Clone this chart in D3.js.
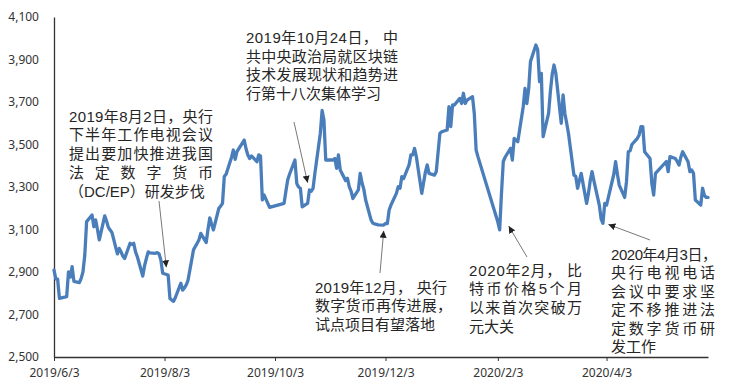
<!DOCTYPE html>
<html>
<head>
<meta charset="utf-8">
<script src="https://cdn.jsdelivr.net/npm/d3@7"></script>
<style>
  body { margin: 0; background: #fff; }
  svg { display: block; }
  text { font-family: "Noto Sans", "Noto Sans CJK SC", sans-serif; }
</style>
</head>
<body>
<div id="chart"></div>
<script>
// trading days shown in the chart
const dates = [
  "2019-06-03", "2019-06-04", "2019-06-05", "2019-06-06", "2019-06-10", "2019-06-11", "2019-06-12", "2019-06-13", "2019-06-14",
  "2019-06-17", "2019-06-18", "2019-06-19", "2019-06-20", "2019-06-21", "2019-06-24", "2019-06-25", "2019-06-26", "2019-06-27", "2019-06-28",
  "2019-07-01", "2019-07-02", "2019-07-03", "2019-07-04", "2019-07-05", "2019-07-08", "2019-07-09", "2019-07-10", "2019-07-11", "2019-07-12",
  "2019-07-15", "2019-07-16", "2019-07-17", "2019-07-18", "2019-07-19", "2019-07-22", "2019-07-23", "2019-07-24", "2019-07-25", "2019-07-26",
  "2019-07-29", "2019-07-30", "2019-07-31", "2019-08-01", "2019-08-02", "2019-08-05", "2019-08-06", "2019-08-07", "2019-08-08", "2019-08-09",
  "2019-08-12", "2019-08-13", "2019-08-14", "2019-08-15", "2019-08-16", "2019-08-19", "2019-08-20", "2019-08-21", "2019-08-22", "2019-08-23",
  "2019-08-26", "2019-08-27", "2019-08-28", "2019-08-29", "2019-08-30", "2019-09-02", "2019-09-03", "2019-09-04", "2019-09-05", "2019-09-06",
  "2019-09-09", "2019-09-10", "2019-09-11", "2019-09-12", "2019-09-16", "2019-09-17", "2019-09-18", "2019-09-19", "2019-09-20",
  "2019-09-23", "2019-09-24", "2019-09-25", "2019-09-26", "2019-09-27", "2019-09-30", "2019-10-08", "2019-10-09", "2019-10-10", "2019-10-11",
  "2019-10-14", "2019-10-15", "2019-10-16", "2019-10-17", "2019-10-18", "2019-10-21", "2019-10-22", "2019-10-23", "2019-10-24", "2019-10-25",
  "2019-10-28", "2019-10-29", "2019-10-30", "2019-10-31", "2019-11-01", "2019-11-04", "2019-11-05", "2019-11-06", "2019-11-07", "2019-11-08",
  "2019-11-11", "2019-11-12", "2019-11-13", "2019-11-14", "2019-11-15", "2019-11-18", "2019-11-19", "2019-11-20", "2019-11-21", "2019-11-22",
  "2019-11-25", "2019-11-26", "2019-11-27", "2019-11-28", "2019-11-29", "2019-12-02", "2019-12-03", "2019-12-04", "2019-12-05", "2019-12-06",
  "2019-12-09", "2019-12-10", "2019-12-11", "2019-12-12", "2019-12-13", "2019-12-16", "2019-12-17", "2019-12-18", "2019-12-19", "2019-12-20",
  "2019-12-23", "2019-12-24", "2019-12-25", "2019-12-26", "2019-12-27", "2019-12-30", "2019-12-31", "2020-01-02", "2020-01-03",
  "2020-01-06", "2020-01-07", "2020-01-08", "2020-01-09", "2020-01-10", "2020-01-13", "2020-01-14", "2020-01-15", "2020-01-16", "2020-01-17",
  "2020-01-20", "2020-01-21", "2020-01-22", "2020-01-23", "2020-02-03", "2020-02-04", "2020-02-05", "2020-02-06", "2020-02-07",
  "2020-02-10", "2020-02-11", "2020-02-12", "2020-02-13", "2020-02-14", "2020-02-17", "2020-02-18", "2020-02-19", "2020-02-20", "2020-02-21",
  "2020-02-24", "2020-02-25", "2020-02-26", "2020-02-27", "2020-02-28", "2020-03-02", "2020-03-03", "2020-03-04", "2020-03-05", "2020-03-06",
  "2020-03-09", "2020-03-10", "2020-03-11", "2020-03-12", "2020-03-13", "2020-03-16", "2020-03-17", "2020-03-18", "2020-03-19", "2020-03-20",
  "2020-03-23", "2020-03-24", "2020-03-25", "2020-03-26", "2020-03-27", "2020-03-30", "2020-03-31", "2020-04-01", "2020-04-02", "2020-04-03",
  "2020-04-07", "2020-04-08", "2020-04-09", "2020-04-10", "2020-04-13", "2020-04-14", "2020-04-15", "2020-04-16", "2020-04-17",
  "2020-04-20", "2020-04-21", "2020-04-22", "2020-04-23", "2020-04-24", "2020-04-27", "2020-04-28", "2020-04-29", "2020-04-30",
  "2020-05-06", "2020-05-07", "2020-05-08", "2020-05-11", "2020-05-12", "2020-05-13", "2020-05-14", "2020-05-15",
  "2020-05-18", "2020-05-19", "2020-05-20", "2020-05-21", "2020-05-22", "2020-05-25", "2020-05-26", "2020-05-27", "2020-05-28", "2020-05-29"
];

// index close for each day above
const values = [
  2909, 2868, 2866, 2776, 2784, 2901, 2876, 2925, 2856,
  2850, 2870, 2901, 2980, 3137, 3168, 3113, 3145, 3100, 3051,
  3164, 3140, 3110, 3098, 3085, 2985, 3011, 2995, 2975, 2964,
  3035, 3030, 3035, 2995, 2972, 2881, 2930, 2964, 2995, 2990,
  2988, 2991, 2985, 2956, 2894, 2886, 2775, 2768, 2762, 2780,
  2847, 2815, 2825, 2839, 2862, 3004, 3020, 3035, 3051, 3082,
  3039, 3100, 3155, 3125, 3098, 3200, 3210, 3223, 3349, 3360,
  3440, 3474, 3430, 3466, 3521, 3480, 3451, 3434, 3446,
  3419, 3451, 3445, 3239, 3262, 3204, 3223, 3280, 3333, 3360,
  3427, 3317, 3300, 3294, 3207, 3223, 3286, 3280, 3294, 3364,
  3552, 3660, 3615, 3427, 3427, 3427, 3434, 3388, 3451, 3380,
  3330, 3341, 3301, 3280, 3246, 3286, 3364, 3320, 3290, 3240,
  3145, 3130, 3126, 3124, 3122, 3121, 3129, 3128, 3192, 3215,
  3270, 3301, 3294, 3349, 3340, 3404, 3451, 3451, 3482, 3443,
  3270, 3320, 3370, 3404, 3364, 3356, 3372, 3552, 3560,
  3568, 3678, 3584, 3686, 3686, 3717, 3693, 3741, 3693, 3709,
  3725, 3646, 3474, 3443, 3135, 3098, 3270, 3420, 3440,
  3482, 3427, 3529, 3520, 3513, 3678, 3764, 3693, 3760, 3890,
  3968, 3945, 3796, 3835, 3537, 3646, 3750, 3830, 3874, 3835,
  3600, 3733, 3646, 3600, 3552, 3356, 3350, 3294, 3330, 3364,
  3223, 3270, 3330, 3372, 3330, 3215, 3150, 3129, 3223, 3215,
  3360, 3419, 3360, 3309, 3251, 3325, 3466, 3470, 3500,
  3529, 3545, 3584, 3584, 3466, 3434, 3317, 3262, 3364,
  3420, 3372, 3443, 3434, 3420, 3403, 3440, 3466,
  3419, 3372, 3380, 3364, 3239, 3215, 3294, 3260, 3251, 3251
];

// axis ticks
const x_ticks = ["2019-06-03", "2019-08-03", "2019-10-03", "2019-12-03", "2020-02-03", "2020-04-03"];
const x_tick_labels = ["2019/6/3", "2019/8/3", "2019/10/3", "2019/12/3", "2020/2/3", "2020/4/3"];
const y_ticks = [2500, 2700, 2900, 3100, 3300, 3500, 3700, 3900, 4100];

// annotation texts and the day/value each arrow points at
const note_lines = [
  ["2019年8月2日，央行", "下半年工作电视会议", "提出要加快推进我国", "法定数字货币", "（DC/EP）研发步伐"],
  ["2019年10月24日，  中", "共中央政治局就区块链", "技术发展现状和趋势进", "行第十八次集体学习"],
  ["2019年12月，  央行", "数字货币再传进展，", "试点项目有望落地"],
  ["2020年2月，  比", "特币价格5个月", "以来首次突破万", "元大关"],
  ["2020年4月3日，", "央行电视电话", "会议中要求坚", "定不移推进法", "定数字货币研", "发工作"]
];
const note_targets = [
  ["2019-08-04", 2922],
  ["2019-10-21", 3320],
  ["2019-12-02", 3094],
  ["2020-02-09", 3116],
  ["2020-04-04", 3124]
];

// layout of each annotation block (left, first line centre, line step, justified widths, arrow start)
const note_layout = [
  { x: 69, y: 116, step: 18.8, widths: [144, 144, 144, 144, null], from: [159, 201] },
  { x: 246, y: 37.5, step: 18.5, widths: [152, 152, 152, null], from: [294, 122] },
  { x: 315, y: 287.5, step: 18.3, widths: [132, 137, null], from: [380, 273] },
  { x: 469, y: 270, step: 18.7, widths: [113, 113, 113, null], from: [527, 257] },
  { x: 611, y: 254, step: 18.5, widths: [106, 104, 104, 104, 104, null], from: [650, 240] }
];

const width = 742;
const height = 392;
const margin = { top: 17, right: 34, bottom: 35, left: 54 };

const parse = d3.utcParse("%Y-%m-%d");
const series = dates.map((d, i) => ({ date: parse(d), value: values[i] }));

const svg = d3.select("#chart")
  .append("svg")
  .attr("width", width)
  .attr("height", height);

// scales
const x = d3.scaleUtc()
  .domain([parse(dates[0]), parse(dates[dates.length - 1])])
  .range([margin.left, width - margin.right]);

const y = d3.scaleLinear()
  .domain([2500, 4100])
  .range([height - margin.bottom, margin.top]);

// x axis
const x_axis = svg.append("g")
  .attr("transform", `translate(0,${height - margin.bottom})`)
  .call(d3.axisBottom(x)
    .tickValues(x_ticks.map(parse))
    .tickFormat((d, i) => x_tick_labels[i])
    .tickSize(4)
    .tickSizeOuter(0));
x_axis.select(".domain").attr("stroke", "#333").attr("stroke-width", 1.3);
x_axis.selectAll(".tick line").attr("stroke", "#333");
x_axis.selectAll(".tick text")
  .attr("fill", "#333")
  .attr("font-size", "12px")
  .attr("dy", "1.1em");

// y axis (no tick marks)
const y_axis = svg.append("g")
  .attr("transform", `translate(${margin.left},0)`)
  .call(d3.axisLeft(y)
    .tickValues(y_ticks)
    .tickFormat(d3.format(","))
    .tickSize(0)
    .tickPadding(15));
y_axis.select(".domain").attr("stroke", "#333").attr("stroke-width", 1.3);
y_axis.selectAll(".tick text")
  .attr("fill", "#333")
  .attr("font-size", "12px");

// the index line
svg.append("path")
  .datum(series)
  .attr("fill", "none")
  .attr("stroke", "#4a7ebb")
  .attr("stroke-width", 3.3)
  .attr("stroke-linejoin", "round")
  .attr("stroke-linecap", "round")
  .attr("d", d3.line()
    .x(d => x(d.date))
    .y(d => y(d.value)));

// arrow head
svg.append("defs")
  .append("marker")
  .attr("id", "arrow")
  .attr("viewBox", "0 0 10 10")
  .attr("refX", 10)
  .attr("refY", 5)
  .attr("markerWidth", 7)
  .attr("markerHeight", 7)
  .attr("markerUnits", "userSpaceOnUse")
  .attr("orient", "auto")
  .append("path")
  .attr("d", "M0,0L10,5L0,10z")
  .attr("fill", "#222");

// annotations: Latin font first (tighter line box), CJK glyphs fall back
note_lines.forEach((lines, n) => {
  const lay = note_layout[n];
  const target = note_targets[n];

  svg.append("line")
    .attr("x1", lay.from[0])
    .attr("y1", lay.from[1])
    .attr("x2", x(parse(target[0])))
    .attr("y2", y(target[1]))
    .attr("stroke", "#555")
    .attr("stroke-width", 0.8)
    .attr("marker-end", "url(#arrow)");

  const g = svg.append("g")
    .attr("fill", "#262626")
    .attr("font-size", "15px");

  lines.forEach((line, i) => {
    const t = g.append("text")
      .attr("x", lay.x)
      .attr("y", lay.y + i * lay.step + 5.5)
      .style("font-family", "'Liberation Sans', 'Noto Sans CJK SC', sans-serif")
      .text(line);
    if (lay.widths[i]) {
      t.attr("textLength", lay.widths[i]).attr("lengthAdjust", "spacing");
    }
  });
});
</script>
</body>
</html>
